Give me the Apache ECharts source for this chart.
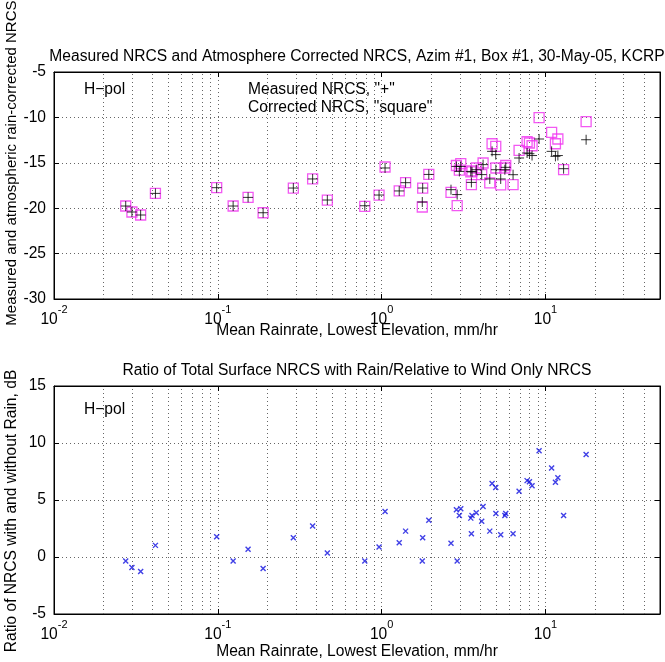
<!DOCTYPE html>
<html><head><meta charset="utf-8">
<script src="https://cdn.jsdelivr.net/npm/echarts@6/dist/echarts.min.js"></script>
<style>html,body{margin:0;padding:0;background:#fff}#c{width:665px;height:662px}</style>
</head><body><div id="c"></div>
<script>
// Mean rainrate (mm/hr) for each observation
const rainRate = [0.0274,0.0299,0.0338,0.0416,0.0984,0.124,0.153,0.189,0.289,0.379,0.466,0.789,0.964,1.049,1.28,1.40,1.78,1.77,1.94,2.65,2.86,2.89,2.98,3.04,3.50,3.53,3.56,3.78,4.08,4.16,4.57,4.72,4.97,4.98,5.33,5.65,5.72,6.34,6.90,7.72,7.98,8.28,9.14,10.9,11.5,11.9,12.9,17.7];
// Measured NRCS (+)
const measuredNRCS = [-19.76,-20.42,-20.75,-18.37,-17.74,-19.76,-18.81,-20.5,-17.78,-16.78,-19.1,-19.73,-18.55,-15.57,-18.1,-17.19,-17.78,-19.32,-16.28,-17.96,-15.4,-18.5,-15.95,-15.4,-15.95,-17.16,-16.0,-15.76,-16.3,-15.2,-16.78,-13.74,-14.1,-15.76,-16.78,-15.76,-15.5,-16.31,-14.47,-13.92,-14.0,-14.2,-12.38,-13.74,-14.29,-14.2,-15.65,-12.46];
// Corrected NRCS (square)
const correctedNRCS = [-19.76,-20.42,-20.75,-18.37,-17.74,-19.76,-18.81,-20.5,-17.78,-16.78,-19.1,-19.8,-18.55,-15.46,-18.1,-17.19,-17.78,-19.87,-16.28,-18.26,-15.3,-19.72,-15.8,-15.1,-16.01,-17.41,-15.9,-15.57,-16.31,-15.02,-17.22,-12.9,-13.19,-15.57,-17.44,-15.57,-15.3,-17.41,-13.63,-12.68,-12.82,-13.12,-10.03,-11.65,-12.9,-12.38,-15.76,-10.47];
// Ratio with / without rain, dB (x)
const ratioDB = [-0.35,-0.93,-1.28,1.02,1.78,-0.35,0.67,-1.01,1.69,2.71,0.35,-0.35,0.87,3.99,1.26,2.27,1.69,-0.35,3.23,1.2,4.14,-0.35,3.64,4.23,3.41,2.04,3.64,3.88,3.14,4.43,2.27,6.44,6.09,3.82,1.96,3.64,3.82,2.04,5.76,6.7,6.61,6.26,9.32,7.81,6.55,6.96,3.64,9.0];
// Axis ranges / ticks
const xRange = [0.01, 50];
const topYRange = [-30, -5];
const botYRange = [-5, 15];
const yStep = 5;
const minorGridX = [0.02,0.03,0.04,0.05,0.06,0.07,0.08,0.09,0.2,0.3,0.4,0.5,0.6,0.7,0.8,0.9,2,3,4,5,6,7,8,9,20,30,40];

const FONT = '"Liberation Sans", Arial, Helvetica, sans-serif';
const FS = 15.6;
const chart = echarts.init(document.getElementById('c'), null, {renderer:'canvas'});

function xLabel(v){
  const l = Math.log10(v), e = Math.round(l);
  if (Math.abs(l - e) > 1e-6) return '';
  return '{b|10}{s|' + e + '}';
}
const DOT = {type:[1,3], color:'#666', width:1};
const gridLine = {show:true, lineStyle:DOT};
function logX(gi, pos, labels){
  return {type:'log', logBase:10, gridIndex:gi, position:pos, min:xRange[0], max:xRange[1],
    axisLine:{show:true, onZero:false, lineStyle:{color:'#000'}},
    axisTick:{show:true, inside:true, length:5, lineStyle:{color:'#000'}},
    axisLabel:{show:labels, formatter:xLabel, margin:5, color:'#000',
      rich:{b:{fontSize:FS, fontFamily:FONT, color:'#000', verticalAlign:'bottom', lineHeight:24},
            s:{fontSize:11, fontFamily:FONT, color:'#000', verticalAlign:'top', lineHeight:24}}},
    splitLine: labels ? gridLine : {show:false}};
}
function linY(gi, pos, rng, labels){
  return {type:'value', gridIndex:gi, position:pos, min:rng[0], max:rng[1], interval:yStep,
    axisLine:{show:true, onZero:false, lineStyle:{color:'#000'}},
    axisTick:{show:true, inside:true, length:5, lineStyle:{color:'#000'}},
    axisLabel:{show:labels, fontSize:FS, fontFamily:FONT, color:'#000', margin:8},
    splitLine: labels ? gridLine : {show:false}};
}
function minorLines(){
  return {silent:true, symbol:['none','none'], z:1, label:{show:false},
    lineStyle:DOT, emphasis:{disabled:true},
    animation:false, data:minorGridX.map(v=>({xAxis:v}))};
}
const xy = (ys) => rainRate.map((x,i)=>[x, ys[i]]);

const txt = (x,y,text,opt) => Object.assign({type:'text', x:x, y:y, silent:true,
  style:Object.assign({text:text, font:FS+'px '+FONT, fill:'#000', textAlign:'left', textVerticalAlign:'middle'}, (opt&&opt.style)||{})},
  opt&&opt.rotation!==undefined?{rotation:opt.rotation}:{});

chart.setOption({
  animation:false,
  backgroundColor:'#fff',
  grid:[
    {left:54, top:72, width:606, height:227, show:true, borderColor:'#000', borderWidth:1, backgroundColor:'transparent'},
    {left:54, top:386, width:606, height:228, show:true, borderColor:'#000', borderWidth:1, backgroundColor:'transparent'}
  ],
  xAxis:[logX(0,'bottom',true), logX(0,'top',false), logX(1,'bottom',true), logX(1,'top',false)],
  yAxis:[linY(0,'left',topYRange,true), linY(0,'right',topYRange,false), linY(1,'left',botYRange,true), linY(1,'right',botYRange,false)],
  series:[
    {type:'scatter', name:'Corrected NRCS', xAxisIndex:0, yAxisIndex:0, z:3, data:xy(correctedNRCS),
      symbol:'rect', symbolSize:10, itemStyle:{color:'rgba(0,0,0,0)', borderColor:'#f030f0', borderWidth:1.3},
      markLine:minorLines()},
    {type:'scatter', name:'Measured NRCS', xAxisIndex:0, yAxisIndex:0, z:4, data:xy(measuredNRCS),
      symbol:'path://M0,-1L0,1M-1,0L1,0', symbolSize:10, itemStyle:{color:'rgba(0,0,0,0)', borderColor:'#000', borderWidth:1}},
    {type:'scatter', name:'Ratio', xAxisIndex:2, yAxisIndex:2, z:3, data:xy(ratioDB),
      symbol:'path://M-1,-1L1,1M-1,1L1,-1', symbolSize:5, itemStyle:{color:'rgba(0,0,0,0)', borderColor:'#1010e0', borderWidth:1.4},
      markLine:minorLines()}
  ],
  graphic:[
    txt(357, 57, 'Measured NRCS and Atmosphere Corrected NRCS, Azim #1, Box #1, 30-May-05, KCRP', {style:{textAlign:'center'}}),
    txt(357, 331, 'Mean Rainrate, Lowest Elevation, mm/hr', {style:{textAlign:'center'}}),
    txt(12, 161, 'Measured and atmospheric rain-corrected NRCS,', {rotation:Math.PI/2, style:{textAlign:'center', font:'15px '+FONT}}),
    txt(84, 90, 'H\u2212pol'),
    txt(248, 90, 'Measured NRCS, "+"'),
    txt(248, 108, 'Corrected NRCS, "square"'),
    txt(357, 371, 'Ratio of Total Surface NRCS with Rain/Relative to Wind Only NRCS', {style:{textAlign:'center'}}),
    txt(357, 652, 'Mean Rainrate, Lowest Elevation, mm/hr', {style:{textAlign:'center'}}),
    txt(12, 511, 'Ratio of NRCS with and without Rain, dB', {rotation:Math.PI/2, style:{textAlign:'center'}}),
    txt(84, 410, 'H\u2212pol')
  ]
});
</script></body></html>
